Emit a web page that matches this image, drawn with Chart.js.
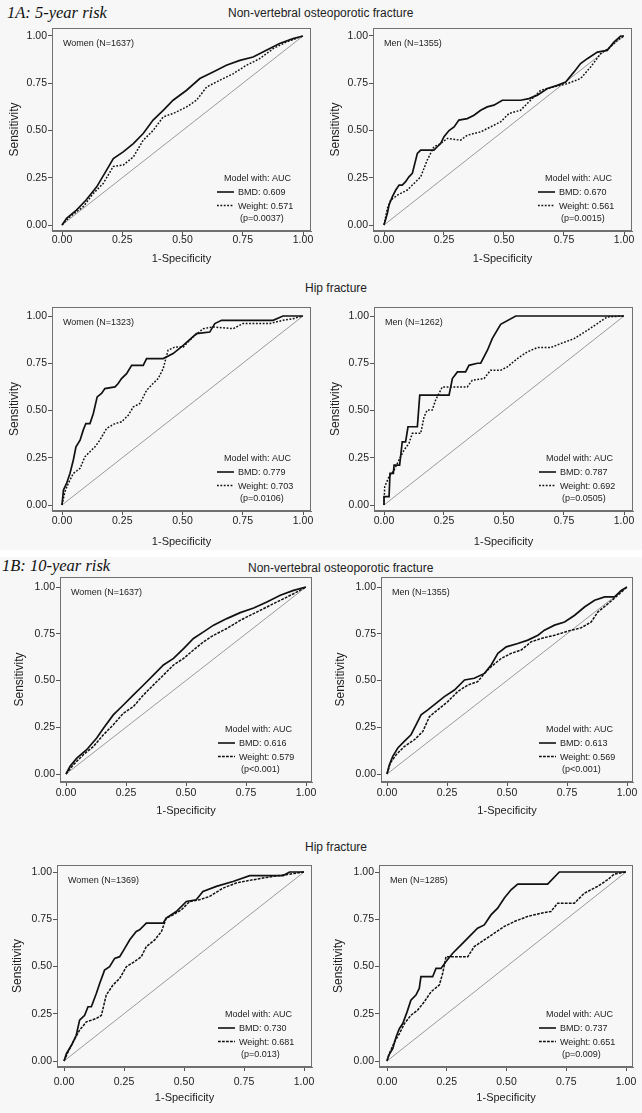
<!DOCTYPE html>
<html>
<head>
<meta charset="utf-8">
<script src="https://cdn.jsdelivr.net/npm/chart.js@4.4.1/dist/chart.umd.min.js"></script>
<style>
body { margin: 0; background: #fff; }
#page { position: relative; width: 642px; height: 1113px; background: #f7f7f7; overflow: hidden;
        font-family: 'Liberation Sans', Arial, sans-serif; color: #222; }
.band { position: absolute; left: 0; width: 642px; top: 550px; height: 7px; background: #fff; }
.head { position: absolute; white-space: nowrap; line-height: 1; }
.sec { font-family: 'Liberation Serif', 'Times New Roman', serif; font-style: italic; font-size: 16.5px; color: #111; }
.sub { font-size: 12px; color: #222; }
canvas { position: absolute; }
</style>
</head>
<body>
<div id="page">
  <div class="band"></div>
  <div class="head sec" style="left:7px; top:4.5px;">1A: 5-year risk</div>
  <div class="head sub" style="left:228px; top:6.5px;">Non-vertebral osteoporotic fracture</div>
  <div class="head sub" style="left:305px; top:282px;">Hip fracture</div>
  <div class="head sec" style="left:2px; top:558px;">1B: 10-year risk</div>
  <div class="head sub" style="left:248px; top:562px;">Non-vertebral osteoporotic fracture</div>
  <div class="head sub" style="left:305px; top:841px;">Hip fracture</div>
</div>
<script>
// axis ticks
const tickValues = [0, 0.25, 0.5, 0.75, 1];
const tickLabels = ['0.00', '0.25', '0.50', '0.75', '1.00'];
const diagonal = [[0, 0], [1, 1]];

// ROC curves, [1-specificity, sensitivity]
// 1A: 5-year risk, non-vertebral
const nv5WomenBMD = [[0,0],[0.019,0.035],[0.06,0.079],[0.10,0.132],[0.144,0.202],[0.185,0.29],[0.213,0.352],[0.254,0.387],[0.296,0.431],[0.337,0.484],[0.378,0.555],[0.42,0.607],[0.461,0.66],[0.517,0.713],[0.572,0.775],[0.627,0.81],[0.682,0.845],[0.738,0.871],[0.793,0.889],[0.848,0.924],[0.903,0.96],[0.959,0.986],[1,1]];
const nv5WomenWeight = [[0,0],[0.03,0.04],[0.088,0.097],[0.13,0.167],[0.171,0.22],[0.213,0.31],[0.254,0.317],[0.296,0.36],[0.337,0.449],[0.378,0.5],[0.42,0.572],[0.461,0.59],[0.517,0.625],[0.558,0.66],[0.6,0.73],[0.655,0.766],[0.71,0.8],[0.765,0.845],[0.82,0.88],[0.876,0.933],[0.93,0.968],[1,1]];
const nv5MenBMD = [[0,0],[0.014,0.062],[0.021,0.106],[0.035,0.15],[0.049,0.185],[0.063,0.211],[0.076,0.211],[0.09,0.229],[0.104,0.255],[0.118,0.273],[0.125,0.308],[0.139,0.379],[0.153,0.396],[0.208,0.396],[0.222,0.414],[0.236,0.431],[0.25,0.467],[0.271,0.5],[0.292,0.519],[0.312,0.555],[0.347,0.563],[0.375,0.581],[0.403,0.607],[0.43,0.625],[0.458,0.634],[0.493,0.66],[0.569,0.66],[0.604,0.669],[0.639,0.687],[0.681,0.722],[0.722,0.739],[0.757,0.757],[0.792,0.81],[0.819,0.854],[0.847,0.88],[0.889,0.915],[0.93,0.924],[0.958,0.968],[0.986,1],[1,1]];
const nv5MenWeight = [[0,0],[0.014,0.088],[0.028,0.132],[0.056,0.158],[0.097,0.185],[0.125,0.22],[0.153,0.255],[0.18,0.343],[0.208,0.414],[0.236,0.431],[0.264,0.458],[0.319,0.449],[0.347,0.475],[0.403,0.493],[0.444,0.519],[0.486,0.546],[0.521,0.59],[0.569,0.607],[0.597,0.643],[0.625,0.678],[0.653,0.713],[0.708,0.731],[0.764,0.748],[0.819,0.775],[0.861,0.836],[0.903,0.907],[0.944,0.942],[0.972,0.977],[1,1]];
// 1A: 5-year risk, hip
const hip5WomenBMD = [[0,0],[0.006,0.079],[0.019,0.114],[0.033,0.167],[0.047,0.238],[0.058,0.308],[0.075,0.343],[0.088,0.396],[0.099,0.431],[0.116,0.431],[0.13,0.484],[0.146,0.572],[0.164,0.59],[0.178,0.616],[0.22,0.625],[0.233,0.643],[0.247,0.669],[0.268,0.695],[0.289,0.739],[0.337,0.739],[0.351,0.775],[0.42,0.775],[0.461,0.801],[0.503,0.845],[0.558,0.907],[0.613,0.915],[0.634,0.96],[0.662,0.977],[0.876,0.977],[0.917,1],[1,1]];
const hip5WomenWeight = [[0,0],[0.012,0.07],[0.026,0.114],[0.047,0.167],[0.075,0.194],[0.095,0.255],[0.116,0.282],[0.137,0.308],[0.157,0.343],[0.185,0.405],[0.22,0.431],[0.247,0.44],[0.275,0.475],[0.296,0.519],[0.323,0.537],[0.351,0.607],[0.378,0.643],[0.399,0.669],[0.42,0.722],[0.44,0.819],[0.468,0.836],[0.503,0.836],[0.544,0.889],[0.586,0.933],[0.627,0.942],[0.71,0.933],[0.751,0.96],[0.862,0.96],[0.917,0.977],[0.959,0.986],[1,1]];
const hip5MenBMD = [[0,0],[0,0.044],[0.021,0.044],[0.025,0.167],[0.039,0.167],[0.042,0.211],[0.065,0.211],[0.069,0.255],[0.076,0.334],[0.09,0.334],[0.1,0.414],[0.139,0.414],[0.149,0.581],[0.271,0.581],[0.285,0.669],[0.306,0.704],[0.34,0.704],[0.354,0.739],[0.389,0.75],[0.403,0.75],[0.431,0.819],[0.451,0.88],[0.486,0.956],[0.549,1],[1,1]];
const hip5MenWeight = [[0,0],[0.003,0.097],[0.021,0.15],[0.042,0.185],[0.069,0.255],[0.083,0.29],[0.104,0.326],[0.118,0.379],[0.153,0.379],[0.167,0.467],[0.18,0.502],[0.201,0.502],[0.215,0.555],[0.243,0.625],[0.278,0.625],[0.347,0.625],[0.368,0.66],[0.417,0.669],[0.444,0.713],[0.486,0.713],[0.514,0.731],[0.556,0.775],[0.597,0.81],[0.639,0.833],[0.694,0.833],[0.736,0.854],[0.792,0.88],[0.847,0.924],[0.889,0.96],[0.93,0.995],[1,1]];
// 1B: 10-year risk, non-vertebral
const nv10WomenBMD = [[0,0],[0.017,0.041],[0.045,0.085],[0.086,0.13],[0.128,0.192],[0.156,0.245],[0.197,0.316],[0.239,0.369],[0.281,0.423],[0.323,0.476],[0.364,0.529],[0.406,0.583],[0.448,0.618],[0.49,0.671],[0.531,0.725],[0.573,0.76],[0.615,0.796],[0.67,0.831],[0.726,0.863],[0.782,0.888],[0.837,0.92],[0.893,0.956],[0.948,0.982],[1,1]];
const nv10WomenWeight = [[0,0],[0.031,0.05],[0.072,0.103],[0.114,0.147],[0.156,0.21],[0.197,0.263],[0.239,0.325],[0.281,0.361],[0.323,0.423],[0.364,0.476],[0.406,0.529],[0.448,0.583],[0.49,0.618],[0.531,0.663],[0.573,0.707],[0.615,0.742],[0.67,0.778],[0.726,0.822],[0.782,0.858],[0.837,0.893],[0.893,0.929],[0.948,0.964],[1,1]];
const nv10MenBMD = [[0,0],[0.01,0.05],[0.024,0.094],[0.045,0.139],[0.072,0.174],[0.1,0.21],[0.121,0.263],[0.142,0.316],[0.17,0.343],[0.204,0.378],[0.239,0.414],[0.281,0.449],[0.323,0.503],[0.364,0.512],[0.406,0.538],[0.434,0.583],[0.462,0.645],[0.497,0.68],[0.545,0.698],[0.587,0.716],[0.629,0.742],[0.656,0.769],[0.698,0.796],[0.74,0.813],[0.782,0.849],[0.823,0.893],[0.865,0.929],[0.907,0.947],[0.948,0.947],[0.976,0.982],[1,1]];
const nv10MenWeight = [[0,0],[0.014,0.059],[0.038,0.103],[0.072,0.147],[0.114,0.183],[0.149,0.227],[0.177,0.307],[0.211,0.343],[0.253,0.387],[0.295,0.441],[0.337,0.476],[0.378,0.494],[0.406,0.538],[0.434,0.574],[0.476,0.618],[0.517,0.645],[0.559,0.663],[0.601,0.707],[0.643,0.725],[0.698,0.742],[0.754,0.764],[0.809,0.782],[0.851,0.813],[0.879,0.867],[0.921,0.911],[0.962,0.956],[1,1]];
// 1B: 10-year risk, hip
const hip10WomenBMD = [[0,0],[0.01,0.039],[0.031,0.083],[0.051,0.136],[0.065,0.216],[0.086,0.242],[0.1,0.287],[0.114,0.287],[0.135,0.358],[0.149,0.411],[0.169,0.481],[0.19,0.499],[0.211,0.543],[0.232,0.552],[0.253,0.596],[0.274,0.641],[0.301,0.685],[0.315,0.694],[0.343,0.729],[0.413,0.729],[0.426,0.756],[0.468,0.791],[0.51,0.844],[0.551,0.853],[0.579,0.897],[0.635,0.924],[0.704,0.95],[0.774,0.981],[0.913,0.981],[0.94,1],[1,1]];
const hip10WomenWeight = [[0,0],[0.017,0.048],[0.038,0.101],[0.065,0.163],[0.093,0.207],[0.135,0.225],[0.156,0.242],[0.176,0.349],[0.204,0.402],[0.232,0.437],[0.26,0.499],[0.294,0.526],[0.322,0.552],[0.343,0.605],[0.378,0.641],[0.406,0.685],[0.426,0.756],[0.454,0.773],[0.489,0.8],[0.524,0.844],[0.565,0.853],[0.607,0.871],[0.663,0.915],[0.718,0.942],[0.788,0.959],[0.871,0.977],[0.926,0.986],[1,1]];
const hip10MenBMD = [[0,0],[0.007,0.03],[0.024,0.065],[0.038,0.127],[0.052,0.172],[0.066,0.198],[0.084,0.26],[0.1,0.322],[0.121,0.349],[0.135,0.384],[0.142,0.446],[0.191,0.446],[0.205,0.49],[0.226,0.49],[0.247,0.526],[0.275,0.57],[0.31,0.614],[0.344,0.658],[0.379,0.703],[0.407,0.72],[0.435,0.773],[0.463,0.809],[0.491,0.862],[0.519,0.906],[0.547,0.936],[0.672,0.936],[0.721,1],[1,1]];
const hip10MenWeight = [[0,0],[0.01,0.039],[0.031,0.101],[0.052,0.145],[0.073,0.198],[0.1,0.242],[0.128,0.269],[0.156,0.313],[0.184,0.366],[0.219,0.402],[0.233,0.464],[0.247,0.552],[0.338,0.552],[0.365,0.605],[0.407,0.641],[0.449,0.676],[0.491,0.712],[0.533,0.738],[0.589,0.765],[0.644,0.782],[0.686,0.791],[0.714,0.835],[0.784,0.835],[0.826,0.888],[0.881,0.924],[0.923,0.959],[0.951,0.989],[1,1]];

const dotted = [1.8, 1.6];
const dashed = [2.8, 1.2];
const FONT = "'Liberation Sans', Arial, sans-serif";

// layout of each panel: plot box [l, t, r, b], pixel of x=0/1 and y=1/0
const panels = [
  { left: 0,   box: [52, 28, 311, 231],  xpx: [62, 303],  ypx: [36, 225],  yTitleX: 15,  xTickY: 240,  xTitleY: 259,
    bmd: nv5WomenBMD, wt: nv5WomenWeight, group: 'Women (N=1637)', aucBmd: 'BMD: 0.609', aucWt: 'Weight: 0.571', p: '(p=0.0037)', dash: dotted },
  { left: 321, box: [373, 28, 632, 231], xpx: [384, 624], ypx: [36, 225],  yTitleX: 336, xTickY: 240,  xTitleY: 259,
    bmd: nv5MenBMD, wt: nv5MenWeight, group: 'Men (N=1355)', aucBmd: 'BMD: 0.670', aucWt: 'Weight: 0.561', p: '(p=0.0015)', dash: dotted },
  { left: 0,   box: [52, 307, 311, 511], xpx: [62, 303],  ypx: [316, 505], yTitleX: 15,  xTickY: 521,  xTitleY: 542,
    bmd: hip5WomenBMD, wt: hip5WomenWeight, group: 'Women (N=1323)', aucBmd: 'BMD: 0.779', aucWt: 'Weight: 0.703', p: '(p=0.0106)', dash: dotted },
  { left: 321, box: [374, 307, 633, 511], xpx: [384, 624], ypx: [316, 505], yTitleX: 336, xTickY: 521, xTitleY: 542,
    bmd: hip5MenBMD, wt: hip5MenWeight, group: 'Men (N=1262)', aucBmd: 'BMD: 0.787', aucWt: 'Weight: 0.692', p: '(p=0.0505)', dash: dotted },
  { left: 0,   box: [60, 577, 312, 782], xpx: [66, 306],  ypx: [587, 774], yTitleX: 20,  xTickY: 793,  xTitleY: 811,
    bmd: nv10WomenBMD, wt: nv10WomenWeight, group: 'Women (N=1637)', aucBmd: 'BMD: 0.616', aucWt: 'Weight: 0.579', p: '(p<0.001)', dash: dashed },
  { left: 321, box: [381, 577, 633, 782], xpx: [387, 627], ypx: [587, 774], yTitleX: 341, xTickY: 793, xTitleY: 811,
    bmd: nv10MenBMD, wt: nv10MenWeight, group: 'Men (N=1355)', aucBmd: 'BMD: 0.613', aucWt: 'Weight: 0.569', p: '(p<0.001)', dash: dashed },
  { left: 0,   box: [57, 865, 312, 1067], xpx: [64, 304], ypx: [872, 1061], yTitleX: 18, xTickY: 1082, xTitleY: 1098,
    bmd: hip10WomenBMD, wt: hip10WomenWeight, group: 'Women (N=1369)', aucBmd: 'BMD: 0.730', aucWt: 'Weight: 0.681', p: '(p=0.013)', dash: dashed },
  { left: 321, box: [379, 865, 633, 1067], xpx: [387, 626], ypx: [872, 1061], yTitleX: 339, xTickY: 1082, xTitleY: 1098,
    bmd: hip10MenBMD, wt: hip10MenWeight, group: 'Men (N=1285)', aucBmd: 'BMD: 0.737', aucWt: 'Weight: 0.651', p: '(p=0.009)', dash: dashed }
];

// frame round the plot area + the text inside it
const panelDecor = {
  id: 'panelDecor',
  afterDatasetsDraw(chart, args, o) {
    const { ctx, chartArea: a } = chart;
    ctx.save();
    ctx.strokeStyle = '#707070';
    ctx.lineWidth = 1;
    ctx.strokeRect(a.left + 0.5, a.top + 0.5, a.width - 1, a.height - 1);

    ctx.fillStyle = '#222';
    ctx.font = '9px ' + FONT;
    ctx.textBaseline = 'alphabetic';
    ctx.fillText(o.group, a.left + 11, a.top + 18);
    ctx.fillText('Model with: AUC', a.right - 87, a.bottom - 50);
    ctx.fillText(o.aucBmd, a.right - 73, a.bottom - 36);
    ctx.fillText(o.aucWt, a.right - 73, a.bottom - 22.5);
    ctx.fillText(o.p, a.right - 71, a.bottom - 10);

    ctx.strokeStyle = '#111';
    ctx.lineWidth = 1.6;
    ctx.beginPath();
    ctx.moveTo(a.right - 94, a.bottom - 39);
    ctx.lineTo(a.right - 77, a.bottom - 39);
    ctx.stroke();
    ctx.setLineDash(o.dash);
    ctx.beginPath();
    ctx.moveTo(a.right - 94, a.bottom - 25.5);
    ctx.lineTo(a.right - 77, a.bottom - 25.5);
    ctx.stroke();
    ctx.restore();
  }
};

const toXY = pts => pts.map(([x, y]) => ({ x, y }));

panels.forEach(function (pn) {
  const [l, t, r, b] = pn.box;
  const W = 321;
  const T = t - 8;
  const B = pn.xTitleY + 9;
  const H = B - T;

  const canvas = document.createElement('canvas');
  canvas.width = W;
  canvas.height = H;
  canvas.style.left = pn.left + 'px';
  canvas.style.top = T + 'px';
  document.getElementById('page').appendChild(canvas);

  const xs = pn.xpx[1] - pn.xpx[0];
  const ys = pn.ypx[1] - pn.ypx[0];

  new Chart(canvas, {
    type: 'scatter',
    data: {
      datasets: [
        { data: toXY(pn.bmd), showLine: true, borderColor: '#111', borderWidth: 1.7, pointRadius: 0, order: 1 },
        { data: toXY(pn.wt), showLine: true, borderColor: '#111', borderWidth: 1.5, borderDash: pn.dash, pointRadius: 0, order: 2 },
        { data: toXY(diagonal), showLine: true, borderColor: '#9a9a9a', borderWidth: 1, pointRadius: 0, order: 3 }
      ]
    },
    options: {
      responsive: false,
      animation: false,
      devicePixelRatio: 1,
      layout: { padding: { top: t - T, right: pn.left + W - r, left: 0, bottom: 0 } },
      plugins: {
        legend: { display: false },
        tooltip: { enabled: false },
        panelDecor: { group: pn.group, aucBmd: pn.aucBmd, aucWt: pn.aucWt, p: pn.p, dash: pn.dash }
      },
      scales: {
        x: {
          type: 'linear',
          min: -(pn.xpx[0] - l) / xs,
          max: 1 + (r - pn.xpx[1]) / xs,
          afterFit: s => { s.height = B - b; },
          afterBuildTicks: s => { s.ticks = tickValues.map(v => ({ value: v })); },
          ticks: {
            callback: v => tickLabels[tickValues.indexOf(v)],
            font: { size: 10.5, family: FONT }, color: '#222',
            padding: pn.xTickY - b - 10.3, maxRotation: 0, autoSkip: false
          },
          grid: { drawOnChartArea: false, tickLength: 4, color: '#555' },
          border: { color: '#707070' },
          title: { display: true, text: '1-Specificity', font: { size: 11, family: FONT }, color: '#222',
                   padding: { top: 0, bottom: 2.4 } }
        },
        y: {
          type: 'linear',
          min: -(b - pn.ypx[1]) / ys,
          max: 1 + (pn.ypx[0] - t) / ys,
          afterFit: s => { s.width = l - pn.left; },
          afterBuildTicks: s => { s.ticks = tickValues.map(v => ({ value: v })); },
          ticks: {
            callback: v => tickLabels[tickValues.indexOf(v)],
            font: { size: 10.5, family: FONT }, color: '#222', padding: 1, autoSkip: false
          },
          grid: { drawOnChartArea: false, tickLength: 4, color: '#555' },
          border: { color: '#707070' },
          title: { display: true, text: 'Sensitivity', font: { size: 12, family: FONT }, color: '#222',
                   padding: { top: pn.yTitleX - pn.left - 7.2, bottom: 0 } }
        }
      }
    },
    plugins: [panelDecor]
  });
});
</script>
</body>
</html>
